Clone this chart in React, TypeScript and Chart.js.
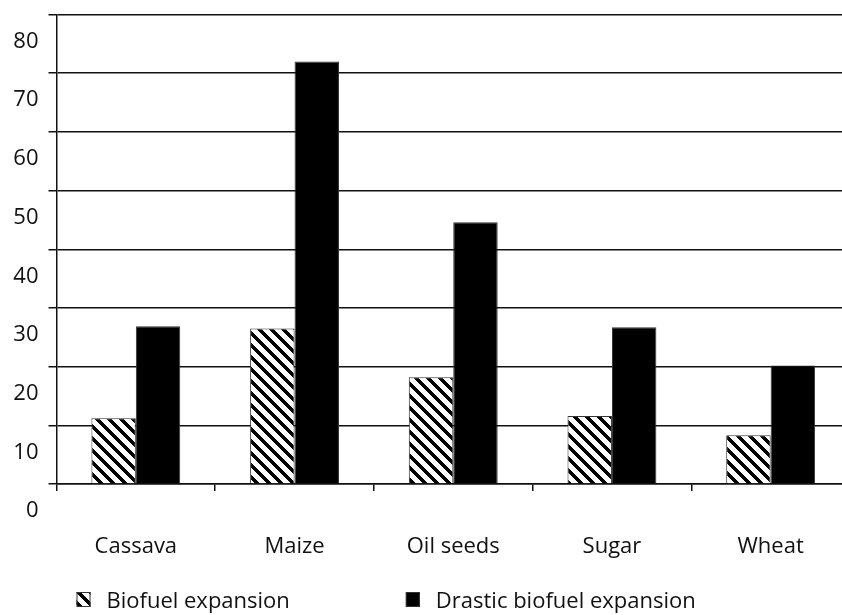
import React, { useEffect, useRef } from 'react';
import { Chart, registerables } from 'chart.js';

Chart.register(...registerables);

// Categories and series values
const categories = ['Cassava', 'Maize', 'Oil seeds', 'Sugar', 'Wheat'];
const biofuelExpansion = [11.2, 26.5, 18.2, 11.6, 8.3];
const drasticBiofuelExpansion = [26.9, 72.0, 44.6, 26.7, 20.2];
const seriesLabels = ['Biofuel expansion', 'Drastic biofuel expansion'];

// Value axis
const yMin = 0;
const yMax = 80;
const yStep = 10;

const FONT = "'Open Sans', sans-serif";
const INK = '#111';

// Pixel-stepped diagonal hatch used for the first series
function makeHatch(): CanvasPattern | string {
  const n = 12;
  const c = document.createElement('canvas');
  c.width = n;
  c.height = n;
  const ctx = c.getContext('2d');
  if (!ctx) return '#888';
  ctx.fillStyle = '#fff';
  ctx.fillRect(0, 0, n, n);
  ctx.fillStyle = '#000';
  for (let y = 0; y < n; y++) {
    for (let x = 0; x < n; x++) {
      if ((((x - y) % n) + n) % n < 5) ctx.fillRect(x, y, 1, 1);
    }
  }
  return ctx.createPattern(c, 'repeat') || '#888';
}

// Legend row drawn under the category labels
const bottomLegend = {
  id: 'bottomLegend',
  afterDraw(chart: any) {
    const { ctx, chartArea } = chart;
    ctx.save();
    ctx.font = `22px ${FONT}`;
    ctx.textBaseline = 'alphabetic';
    const baseline = chart.height - 7;
    let x = chartArea.left + 20;
    chart.data.datasets.forEach((ds: any) => {
      const bw = 14;
      const bh = 15;
      const top = baseline - 16;
      ctx.fillStyle = ds.backgroundColor;
      ctx.fillRect(x, top, bw, bh);
      ctx.strokeStyle = '#333';
      ctx.lineWidth = 1;
      ctx.strokeRect(x + 0.5, top + 0.5, bw - 1, bh - 1);
      const tx = x + bw + 16;
      ctx.fillStyle = INK;
      ctx.fillText(ds.label, tx, baseline);
      x = tx + ctx.measureText(ds.label).width + 116;
    });
    ctx.restore();
  },
};

export default function App() {
  const ref = useRef<HTMLCanvasElement | null>(null);

  useEffect(() => {
    if (!ref.current) return;
    const hatch = makeHatch();
    const chart = new Chart(ref.current, {
      type: 'bar',
      data: {
        labels: categories,
        datasets: [
          {
            label: seriesLabels[0],
            data: biofuelExpansion,
            backgroundColor: hatch as any,
            borderColor: '#333',
            borderWidth: 1,
            categoryPercentage: 0.56,
            barPercentage: 1,
          },
          {
            label: seriesLabels[1],
            data: drasticBiofuelExpansion,
            backgroundColor: '#000',
            borderColor: '#333',
            borderWidth: 1,
            categoryPercentage: 0.56,
            barPercentage: 1,
          },
        ],
      },
      options: {
        responsive: false,
        animation: false,
        layout: { padding: { top: 14.5, left: 0, right: 0, bottom: 0 } },
        plugins: {
          legend: { display: false },
          tooltip: { enabled: false },
        },
        scales: {
          x: {
            grid: {
              drawOnChartArea: false,
              color: INK,
              lineWidth: 1.5,
              tickLength: 7,
              offset: true,
            },
            border: { color: INK, width: 1.5 },
            ticks: {
              padding: 43,
              color: INK,
              font: { family: FONT, size: 22 },
            },
            afterFit: (s: any) => {
              s.height = 131;
              s.paddingLeft = 0;
              s.paddingRight = 0;
            },
          },
          y: {
            min: yMin,
            max: yMax,
            ticks: {
              stepSize: yStep,
              labelOffset: 27,
              padding: 10,
              color: INK,
              font: { family: FONT, size: 22 },
            },
            grid: { color: INK, lineWidth: 1.5, tickLength: 8 },
            border: { color: INK, width: 1.5 },
            afterFit: (s: any) => {
              s.width = 56.5;
              s.paddingTop = 0;
              s.paddingBottom = 0;
            },
          },
        },
      },
      plugins: [bottomLegend],
    });
    return () => chart.destroy();
  }, []);

  return (
    <div
      style={{
        position: 'fixed',
        left: 0,
        top: 0,
        width: 842,
        height: 615,
        overflow: 'hidden',
        background: '#fff',
      }}
    >
      <canvas ref={ref} width={850} height={615} />
    </div>
  );
}
